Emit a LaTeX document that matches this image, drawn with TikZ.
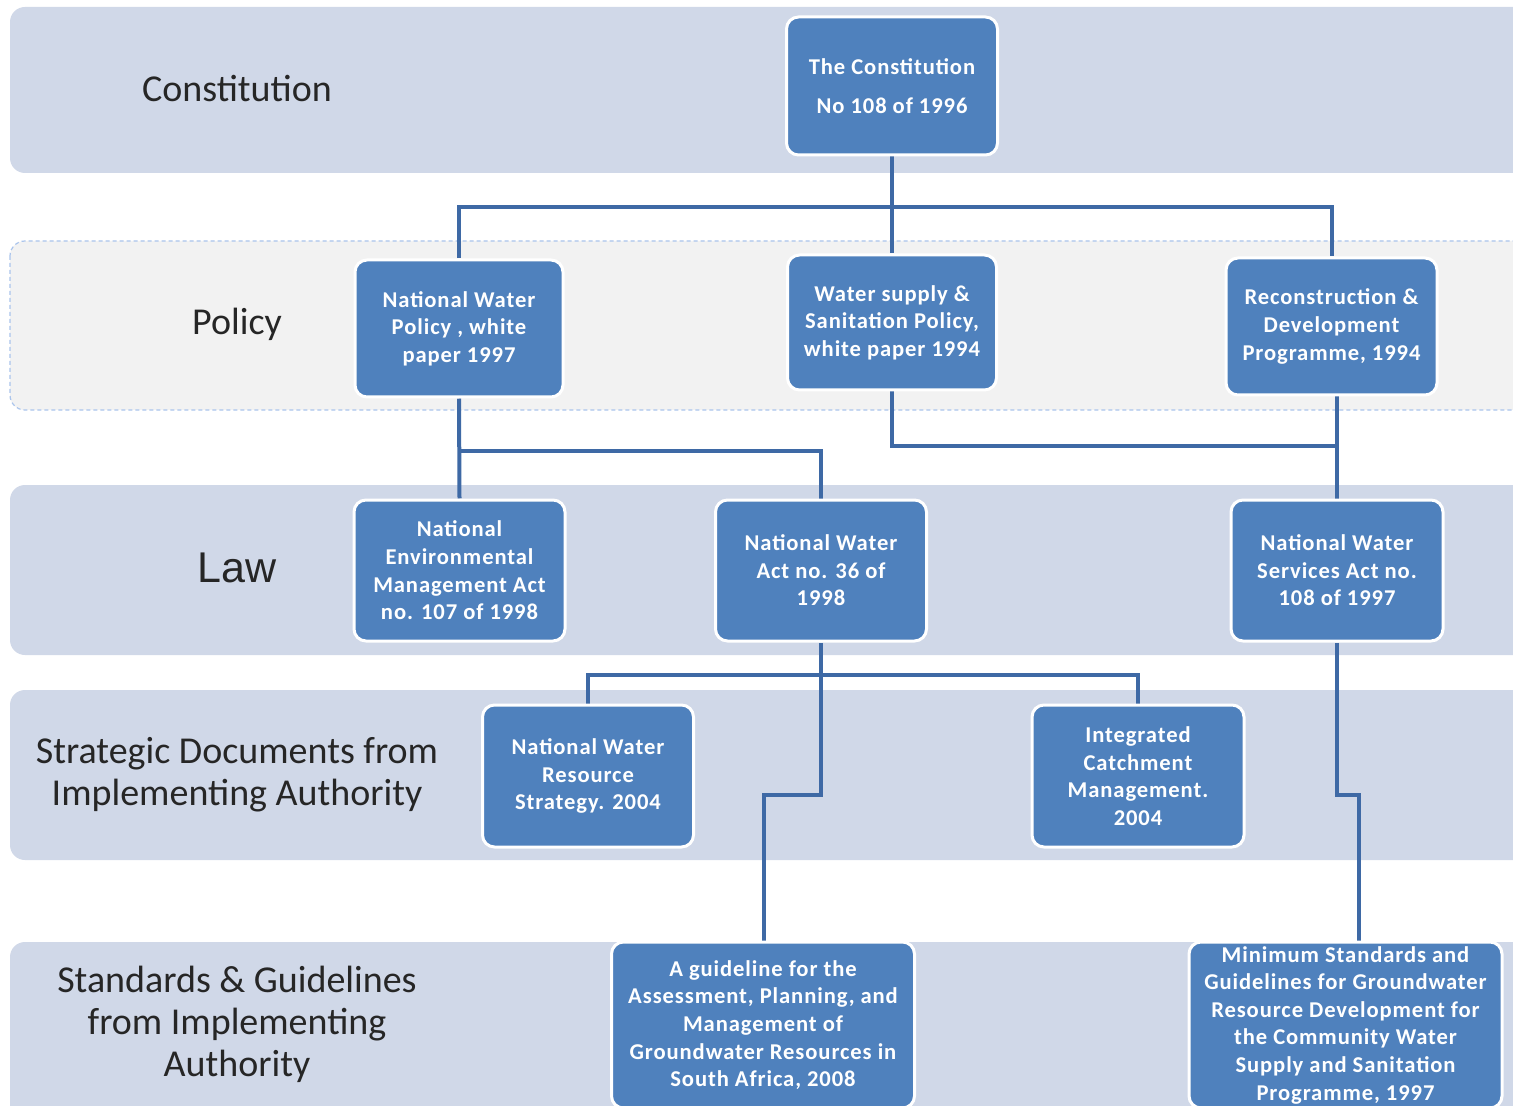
\documentclass[tikz,border=0pt]{standalone}
\usepackage{fontspec}
\setmainfont{Carlito}
\newfontfamily\arialfont{Liberation Sans}
\newfontfamily\boxfont[LetterSpace=4]{Carlito}
\definecolor{bandblue}{RGB}{208,216,232}
\definecolor{bandgrey}{RGB}{242,242,242}
\definecolor{dashblue}{RGB}{170,196,236}
\definecolor{boxblue}{RGB}{79,129,189}
\definecolor{linkblue}{RGB}{62,105,165}
\pgfdeclarelayer{bandlayer}
\pgfdeclarelayer{linklayer}
\pgfsetlayers{bandlayer,linklayer,main}
\tikzset{
  band/.style={fill=bandblue, draw=none, rounded corners=7.5pt},
  policyband/.style={fill=bandgrey, draw=dashblue, line width=0.6pt, dash pattern=on 2pt off 1.5pt, rounded corners=7.5pt},
  bandlabel/.style={font=\fontsize{19}{21}\selectfont, text=black!85, align=center},
  item/.style={fill=boxblue, draw=white, line width=1.5pt, rounded corners=6pt,
    text=white, font=\boxfont\bfseries\fontsize{11.3}{13.8}\selectfont, align=center, inner sep=2pt},
  link/.style={draw=linkblue, line width=2pt}
}
\begin{document}
\begin{tikzpicture}[x=0.5pt,y=-0.5pt]
\useasboundingbox (0,0) rectangle (1513,1106);
\clip (0,0) rectangle (1513,1106);
\begin{pgfonlayer}{bandlayer}
\fill[white] (0,0) rectangle (1513,1106);
\path[band] (10,7) rectangle (1560,173);
\path[policyband] (10,241) rectangle (1560,410);
\path[band] (10,485) rectangle (1560,655);
\path[band] (10,690) rectangle (1560,860);
\path[band] (10,942) rectangle (1560,1140);
\end{pgfonlayer}
% band labels
\node[bandlabel] (lconst) at (237,89) {Constitution};
\node[bandlabel] (lpol) at (237,324) {Policy};
\node[bandlabel, font=\arialfont\fontsize{21.5}{24}\selectfont] (llaw) at (237,568) {Law};
\node[bandlabel] (lstrat) at (237,775) {Strategic Documents from\\Implementing Authority};
\node[bandlabel] (lstd) at (237,1024) {Standards \& Guidelines\\from Implementing\\Authority};
% boxes
\node[item, minimum width=105.5pt, minimum height=69pt] (const) at (892,86) {The Constitution\\[6pt]No 108 of 1996};
\node[item, minimum width=104pt, minimum height=68.5pt] (nwp) at (459,328.5) {National Water\\Policy , white\\paper 1997};
\node[item, minimum width=104.5pt, minimum height=67.5pt] (wssp) at (892,322.5) {Water supply \&\\Sanitation Policy,\\white paper 1994};
\node[item, minimum width=105.5pt, minimum height=68.5pt] (rdp) at (1331.5,326.5) {Reconstruction \&\\Development\\Programme, 1994};
\node[item, minimum width=105.5pt, minimum height=70.5pt] (nema) at (459.5,570.5) {National\\Environmental\\Management Act\\no. 107 of 1998};
\node[item, minimum width=105.5pt, minimum height=70.5pt] (nwa) at (821,570.5) {National Water\\Act no. 36 of\\1998};
\node[item, minimum width=106pt, minimum height=70.5pt] (nwsa) at (1337,570.5) {National Water\\Services Act no.\\108 of 1997};
\node[item, minimum width=105.5pt, minimum height=71pt] (nwrs) at (588,776) {National Water\\Resource\\Strategy. 2004};
\node[item, minimum width=106pt, minimum height=71pt] (icm) at (1138,776) {Integrated\\Catchment\\Management.\\2004};
\node[item, minimum width=151.5pt, minimum height=83pt] (guide) at (763,1025) {A guideline for the\\Assessment, Planning, and\\Management of\\Groundwater Resources in\\South Africa, 2008};
\node[item, minimum width=156.5pt, minimum height=83pt] (minstd) at (1345.5,1025) {Minimum Standards and\\Guidelines for Groundwater\\Resource Development for\\the Community Water\\Supply and Sanitation\\Programme, 1997};
% junctions
\coordinate (j1) at (892,207);
\coordinate (j2) at (459,451);
\coordinate (j3) at (1337,446);
\coordinate (j4) at (821,675);
\coordinate (b1) at (764,795);
\coordinate (b2) at (1359,795);
% connectors
\begin{pgfonlayer}{linklayer}
\draw[link] (const.south) -- (wssp.north);
\draw[link] (nwp.north) |- (j1) -| (rdp.north);
\draw[link] (nwp.south) -- (nema.north);
\draw[link] (j2) -| (nwa.north);
\draw[link] (wssp.south) |- (j3);
\draw[link] (nwsa.north |- rdp.south) -- (nwsa.north);
\draw[link] (nwa.south) |- (b1) -- (b1 |- guide.north);
\draw[link] (nwrs.north) |- (j4) -| (icm.north);
\draw[link] (nwsa.south) |- (b2) -- (b2 |- minstd.north);
\end{pgfonlayer}
\end{tikzpicture}
\end{document}
